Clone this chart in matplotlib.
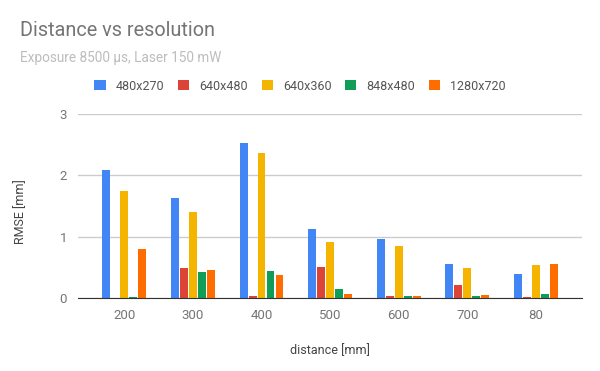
import numpy as np
import matplotlib.pyplot as plt

plt.rcParams['font.family'] = ['Roboto', 'DejaVu Sans']

# Data
distances = ['200', '300', '400', '500', '600', '700', '80']
resolutions = ['480x270', '640x480', '640x360', '848x480', '1280x720']
rmse_480x270 = [2.09, 1.63, 2.53, 1.13, 0.96, 0.56, 0.39]
rmse_640x480 = [0.0, 0.49, 0.04, 0.51, 0.04, 0.21, 0.02]
rmse_640x360 = [1.75, 1.41, 2.37, 0.92, 0.85, 0.49, 0.53]
rmse_848x480 = [0.02, 0.43, 0.44, 0.15, 0.04, 0.03, 0.07]
rmse_1280x720 = [0.80, 0.46, 0.38, 0.07, 0.04, 0.05, 0.56]
series = [rmse_480x270, rmse_640x480, rmse_640x360, rmse_848x480, rmse_1280x720]
colors = ['#4285F4', '#DB4437', '#F4B400', '#0F9D58', '#FF6D00']

fig = plt.figure(figsize=(6, 3.71), dpi=100)
ax = fig.add_axes([0.13, 0.1968, 0.84, 0.4959])

x = np.arange(len(distances))
pitch = 0.131
width = 0.115
for i, (vals, col) in enumerate(zip(series, colors)):
    ax.bar(x + (i - 2) * pitch, vals, width, color=col, label=resolutions[i], zorder=3)

ax.set_xlim(-0.675, 6.67)
ax.set_ylim(0, 3)
ax.set_yticks([0, 1, 2, 3])
ax.set_xticks(x)
ax.set_xticklabels(distances)
ax.grid(axis='y', color='#cccccc', linewidth=1, zorder=0)
for s in ['top', 'right', 'left']:
    ax.spines[s].set_visible(False)
ax.spines['bottom'].set_color('#333333')
ax.spines['bottom'].set_zorder(4)
ax.tick_params(length=0, colors='#757575', labelsize=9.5)
ax.tick_params(axis='x', pad=8)
ax.tick_params(axis='y', pad=8)

ax.set_xlabel('distance [mm]', color='#444444', fontsize=9)
ax.xaxis.set_label_coords((330 - 78) / 504, -0.25)
ax.set_ylabel('RMSE [mm]', color='#444444', fontsize=9)
ax.yaxis.set_label_coords((27 - 78) / 504, 0.47)

fig.text(20 / 600, 1 - 31 / 371, 'Distance vs resolution', fontsize=14.3,
         color='#757575', va='center')
fig.text(20 / 600, 1 - 58 / 371, 'Exposure 8500 μs, Laser 150 mW', fontsize=9.8,
         color='#bdbdbd', va='center')

fig.legend(loc='center', bbox_to_anchor=(300 / 600, 1 - 86 / 371),
           ncol=5, frameon=False, fontsize=9, handlelength=0.9, handleheight=0.9,
           columnspacing=1.1, handletextpad=0.8, labelcolor='#555555')

fig.savefig('out.png', dpi=100)
